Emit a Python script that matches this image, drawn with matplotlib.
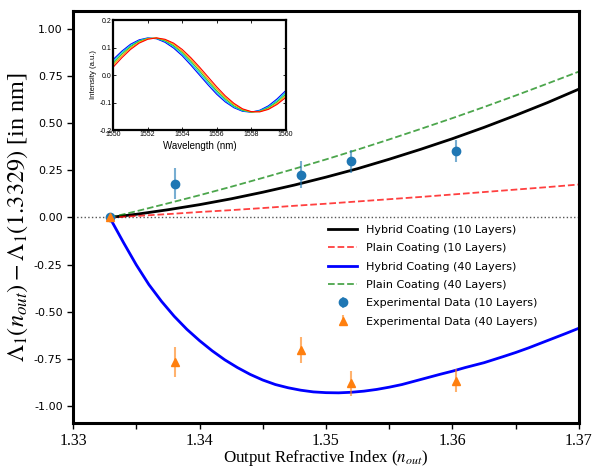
import matplotlib
matplotlib.use('Agg')
import matplotlib.pyplot as plt
from matplotlib.ticker import MultipleLocator, FixedLocator

plt.rcParams['mathtext.fontset'] = 'stix'

# main curves
n_grid = [1.3329, 1.334, 1.335, 1.3375, 1.34, 1.3425, 1.345, 1.3475, 1.35,
          1.3525, 1.355, 1.3575, 1.36, 1.3625, 1.365, 1.3675, 1.37]
hybrid10 = [0.0, 0.009, 0.017, 0.041, 0.068, 0.099, 0.134, 0.172, 0.214,
            0.259, 0.309, 0.362, 0.418, 0.478, 0.542, 0.609, 0.681]
plain10 = [0.0, 0.004, 0.008, 0.018, 0.029, 0.039, 0.050, 0.062, 0.073,
           0.085, 0.097, 0.109, 0.122, 0.135, 0.148, 0.161, 0.175]
plain40 = [0.0, 0.017, 0.033, 0.075, 0.118, 0.163, 0.210, 0.258, 0.308,
           0.360, 0.414, 0.470, 0.527, 0.586, 0.647, 0.710, 0.774]

# hybrid 40 layers bends hard, so it is read on a finer grid
n_blue = [1.3329, 1.334, 1.335, 1.336, 1.337, 1.338, 1.339, 1.34, 1.341, 1.342,
          1.343, 1.344, 1.345, 1.346, 1.347, 1.348, 1.349, 1.35, 1.351, 1.352,
          1.353, 1.354, 1.355, 1.356, 1.357, 1.358, 1.359, 1.36, 1.361, 1.3625,
          1.364, 1.365, 1.366, 1.3675, 1.369, 1.37]
hybrid40 = [0.0, -0.134, -0.251, -0.356, -0.445, -0.524, -0.593, -0.653, -0.707, -0.755,
            -0.796, -0.832, -0.862, -0.886, -0.903, -0.916, -0.925, -0.929, -0.930, -0.927,
            -0.921, -0.912, -0.900, -0.886, -0.868, -0.850, -0.832, -0.815, -0.796, -0.770,
            -0.738, -0.716, -0.692, -0.653, -0.614, -0.587]

# experimental points
exp_n = [1.3329, 1.3381, 1.3480, 1.3520, 1.3603]
exp10 = [0.0, 0.178, 0.227, 0.298, 0.352]
err10 = [0.0, 0.082, 0.070, 0.060, 0.060]
exp40 = [0.0, -0.766, -0.704, -0.880, -0.866]
err40 = [0.0, 0.080, 0.070, 0.066, 0.060]

# inset spectra
wl = [1550, 1550.5, 1551, 1551.5, 1552, 1552.5, 1553, 1553.5, 1554, 1554.5, 1555,
      1555.5, 1556, 1556.5, 1557, 1557.5, 1558, 1558.5, 1559, 1559.5, 1560]
spec_blue = [0.057, 0.087, 0.112, 0.128, 0.135, 0.132, 0.119, 0.098, 0.070, 0.036, 0.000,
             -0.036, -0.070, -0.098, -0.119, -0.132, -0.135, -0.128, -0.112, -0.087, -0.057]
spec_cyan = [0.050, 0.082, 0.107, 0.125, 0.134, 0.133, 0.123, 0.103, 0.076, 0.043, 0.007,
             -0.029, -0.063, -0.093, -0.116, -0.130, -0.135, -0.130, -0.116, -0.093, -0.063]
spec_green = [0.043, 0.076, 0.103, 0.123, 0.133, 0.134, 0.125, 0.107, 0.082, 0.050, 0.015,
              -0.022, -0.057, -0.087, -0.112, -0.128, -0.135, -0.132, -0.119, -0.098, -0.070]
spec_orange = [0.036, 0.070, 0.098, 0.119, 0.132, 0.135, 0.128, 0.112, 0.087, 0.057, 0.022,
               -0.015, -0.050, -0.082, -0.107, -0.125, -0.134, -0.133, -0.123, -0.103, -0.076]
spec_red = [0.029, 0.063, 0.093, 0.116, 0.130, 0.135, 0.130, 0.116, 0.093, 0.063, 0.029,
            -0.007, -0.043, -0.076, -0.103, -0.123, -0.133, -0.134, -0.125, -0.107, -0.082]

fig = plt.figure(figsize=(5.95, 4.67), dpi=100)
ax = fig.add_axes([0.1227, 0.0942, 0.8504, 0.8822])

ax.axhline(0, color='#555555', linestyle=':', linewidth=1)
ax.plot(n_grid, hybrid10, color='black', linewidth=2, label='Hybrid Coating (10 Layers)')
ax.plot(n_grid, plain10, color='red', linestyle='--', alpha=0.75, linewidth=1.3,
        label='Plain Coating (10 Layers)')
ax.plot(n_blue, hybrid40, color='blue', linewidth=2, label='Hybrid Coating (40 Layers)')
ax.plot(n_grid, plain40, color='green', linestyle='--', alpha=0.7, linewidth=1.3,
        label='Plain Coating (40 Layers)')
ax.errorbar(exp_n, exp10, yerr=err10, fmt='o', color='#1f77b4', markersize=6,
            elinewidth=1.5, ecolor=(0.12, 0.47, 0.71, 0.6), label='Experimental Data (10 Layers)')
ax.errorbar(exp_n, exp40, yerr=err40, fmt='^', color='#ff7f0e', markersize=6,
            elinewidth=1.5, ecolor=(1.0, 0.5, 0.05, 0.6), label='Experimental Data (40 Layers)')

ax.set_xlim(1.33, 1.37)
ax.set_ylim(-1.09, 1.095)
ax.xaxis.set_major_locator(MultipleLocator(0.01))
ax.xaxis.set_minor_locator(MultipleLocator(0.005))
ax.yaxis.set_major_locator(MultipleLocator(0.25))
ax.yaxis.set_major_formatter(matplotlib.ticker.FormatStrFormatter('%.2f'))
ax.tick_params(axis='x', which='both', direction='out', length=4, width=1)
ax.tick_params(axis='y', direction='out', length=4, width=1, labelsize=8)
for lab in ax.get_xticklabels():
    lab.set_family('Liberation Serif')
    lab.set_fontsize(11.5)
for sp in ax.spines.values():
    sp.set_linewidth(2.2)

ax.set_xlabel('Output Refractive Index ($n_{out}$)', family='Liberation Serif', fontsize=12.2,
              labelpad=-1)
ax.set_ylabel(r'$\Lambda_1(n_{out}) - \Lambda_1(1.3329)$ [in nm]', family='Liberation Serif',
              fontsize=17.5, labelpad=3)

ax.legend(loc='upper left', bbox_to_anchor=(0.485, 0.505), frameon=False, fontsize=8,
          handlelength=2.6, handletextpad=0.8, labelspacing=0.75)

# inset
ins = fig.add_axes([0.1904, 0.7216, 0.2897, 0.2355])
ins.plot(wl, spec_blue, color='blue', linewidth=0.8)
ins.plot(wl, spec_cyan, color='#00c8e8', linewidth=0.8)
ins.plot(wl, spec_green, color='#30c830', linewidth=0.8)
ins.plot(wl, spec_orange, color='#ffa500', linewidth=0.8)
ins.plot(wl, spec_red, color='red', linewidth=0.8)
ins.set_xlim(1550, 1560)
ins.set_ylim(-0.2, 0.2)
ins.xaxis.set_major_locator(FixedLocator([1550, 1552, 1554, 1556, 1558, 1560]))
ins.yaxis.set_major_locator(FixedLocator([-0.2, -0.1, 0.0, 0.1, 0.2]))
ins.set_yticklabels(['-0.2', '-0.1', '0.0', '0.1', '0.2'])
ins.tick_params(direction='in', top=True, right=True, length=2, width=0.6, labelsize=5, pad=1)
for lab in ins.get_xticklabels() + ins.get_yticklabels():
    lab.set_family('Liberation Sans')
for sp in ins.spines.values():
    sp.set_linewidth(1.6)
ins.set_xlabel('Wavelength (nm)', family='Liberation Sans', fontsize=7, labelpad=2)
ins.set_ylabel('Intensity (a.u.)', family='Liberation Sans', fontsize=5.5, labelpad=2)

fig.savefig('out.png', dpi=100)
